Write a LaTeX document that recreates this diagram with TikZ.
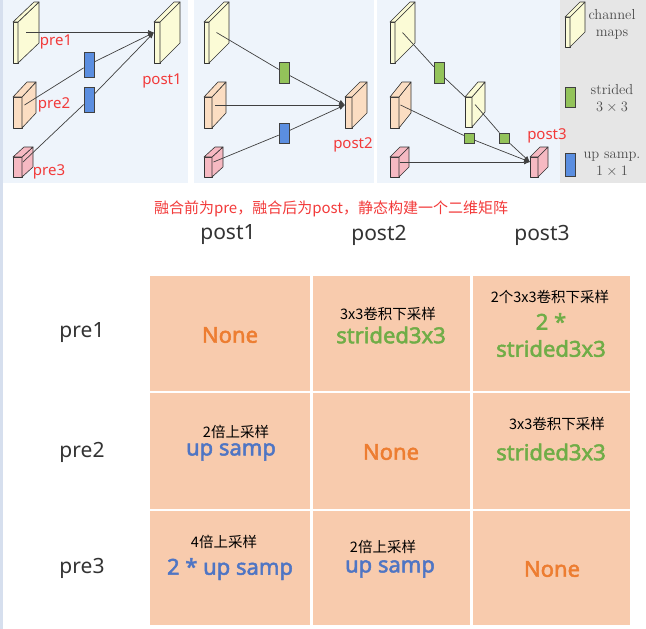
\documentclass[tikz,border=0pt]{standalone}
\usepackage{fontspec}
\newfontfamily\cjk{Noto Sans CJK SC}
\newfontfamily\lat{Noto Sans}
\newfontfamily\latb{Noto Sans}[FakeBold=2.2]
\usetikzlibrary{arrows.meta}
\definecolor{panelbg}{HTML}{EEF4FB}
\definecolor{stripblue}{HTML}{D6DFEE}
\definecolor{legendbg}{HTML}{E6E6E6}
\definecolor{mapyellow}{HTML}{FBFBD6}
\definecolor{maporange}{HTML}{FBDDC2}
\definecolor{mappink}{HTML}{F6B9C2}
\definecolor{upblue}{HTML}{5B8EE0}
\definecolor{strgreen}{HTML}{93C35A}
\definecolor{lblred}{HTML}{F23A3A}
\definecolor{cellfill}{HTML}{F8CBAD}
\definecolor{noneorange}{HTML}{ED7D31}
\definecolor{strgreentxt}{HTML}{70AD47}
\definecolor{upbluetxt}{HTML}{4F75C4}
% a channel map: name, x, y, width, height, depth x, depth y, colour
\newcommand{\slab}[8]{%
  \filldraw[slabedge, fill=#8] ({#2},{#3}) rectangle ++({#4},{#5});
  \filldraw[slabedge, fill=#8] ({#2+#4},{#3}) -- ++({#6},{#7}) -- ++(0,{#5}) -- ++({-#6},{-#7}) -- cycle;
  \filldraw[slabedge, fill=#8] ({#2},{#3}) -- ++({#6},{#7}) -- ++({#4},0) -- ++({-#6},{-#7}) -- cycle;
  \coordinate (#1) at ({#2+#4/2+#6/2},{#3+#5/2+#7/2});
  \coordinate (#1-w) at ({#2},{#3+#5/2+#7/2});
  \coordinate (#1-nw) at ({#2},{#3});
}
\tikzset{
  slabedge/.style={draw=black!80, line width=0.6pt, line join=round},
  upbox/.style={draw=black!75, fill=upblue, minimum width=10pt, inner sep=0pt, line width=0.6pt},
  strbox/.style={draw=black!75, fill=strgreen, minimum width=10pt, inner sep=0pt, line width=0.6pt},
  link/.style={draw=black!75, line width=0.7pt},
  arr/.style={link, -{Latex[length=6pt,width=5pt]}},
  redlbl/.style={text=lblred, font=\lat\fontsize{15}{17}\selectfont},
  legtxt/.style={text=black!70, font=\fontsize{14.5}{17}\selectfont, align=center},
  headtxt/.style={text=black!80, font=\lat\fontsize{21}{24}\selectfont},
  notetxt/.style={text=black, font=\cjk\fontsize{14.5}{17}\selectfont},
  celltxt/.style={font=\latb\fontsize{22}{27}\selectfont, align=center},
}
\begin{document}
\begin{tikzpicture}[x=1pt, y=-1pt]
\useasboundingbox (0,0) rectangle (646,629);

% Draw the panel backgrounds
\fill[stripblue] (0,0) rectangle (3,629);
\fill[panelbg] (3,0) rectangle (188,183);
\fill[panelbg] (194,0) rectangle (374,183);
\fill[panelbg] (377,0) rectangle (560,183);
\fill[legendbg] (560,0) rectangle (646,183);

% First panel: fusion into post1
\slab{p1a}{13}{22}{5}{41}{21}{-20}{mapyellow}
\slab{p1b}{13}{97}{9}{31}{14}{-15}{maporange}
\slab{p1c}{13}{157}{9}{20}{11}{-10}{mappink}
\slab{q1}{154}{22}{6}{41}{20}{-20}{mapyellow}
\node[upbox, minimum height=25pt] (u11) at (89,64.5) {};
\node[upbox, minimum height=25pt] (u12) at (89,99.5) {};
\draw[arr] (p1a) -- (q1-w);
\draw[link] (p1b) -- (u11);
\draw[arr] (u11) -- (q1-w);
\draw[link] (p1c) -- (u12);
\draw[arr] (u12) -- (q1-w);
\node[redlbl] (l11) at (56,42) {pre1};
\node[redlbl] (l12) at (54,105) {pre2};
\node[redlbl] (l13) at (49,172) {pre3};
\node[redlbl] (l14) at (162,81) {post1};

% Second panel: fusion into post2
\slab{p2a}{204}{22}{5}{41}{20}{-20}{mapyellow}
\slab{p2b}{204}{97}{8}{31}{14}{-15}{maporange}
\slab{p2c}{204}{157}{8}{20}{11}{-10}{mappink}
\slab{q2}{345}{97}{7}{31}{15}{-15}{maporange}
\node[strbox, minimum height=21pt] (d21) at (284,72.5) {};
\node[upbox, minimum height=20pt] (u21) at (284,133) {};
\draw[link] (p2a) -- (d21);
\draw[arr] (d21) -- (q2-w);
\draw[arr] (p2b) -- (q2-w);
\draw[link] (p2c) -- (u21);
\draw[arr] (u21) -- (q2-w);
\node[redlbl] (l21) at (353,145) {post2};

% Third panel: fusion into post3
\slab{p3a}{390}{22}{5}{41}{20}{-20}{mapyellow}
\slab{p3b}{390}{97}{9}{31}{12}{-15}{maporange}
\slab{p3c}{390}{157}{9}{20}{10}{-10}{mappink}
\slab{m3}{465}{97}{7}{30}{13}{-15}{mapyellow}
\slab{q3}{530}{157}{8}{20}{10}{-10}{mappink}
\node[strbox, minimum height=21pt] (d31) at (439,72.5) {};
\node[strbox, minimum height=10pt] (d32) at (469,138) {};
\node[strbox, minimum height=10pt] (d33) at (504,138) {};
\draw[link] (p3a) -- (d31);
\draw[link] (d31) -- (m3-nw);
\draw[link] (m3) -- (d33);
\draw[arr] (d33) -- (q3-w);
\draw[link] (p3b) -- (d32);
\draw[arr] (d32) -- (q3-w);
\draw[arr] (p3c) -- (q3-w);
\node[redlbl] (l31) at (547,136) {post3};

% Legend
\slab{lg}{565}{17}{5}{30}{15}{-15}{mapyellow}
\node[strbox, minimum height=20pt] (lgs) at (570,97) {};
\node[upbox, minimum height=23pt] (lgu) at (570,164.5) {};
\node[legtxt] (lt1) at (612,24) {channel\\maps};
\node[legtxt] (lt2) at (612,99) {strided\\$3\times 3$};
\node[legtxt] (lt3) at (612,164) {up samp.\\$1\times 1$};

% Caption and headers
\node[text=lblred, font=\cjk\fontsize{15}{18}\selectfont] (cap) at (331,209) {融合前为pre，融合后为post，静态构建一个二维矩阵};
\node[headtxt] (h1) at (228,235) {post1};
\node[headtxt] (h2) at (379,235) {post2};
\node[headtxt] (h3) at (542,235) {post3};
\node[headtxt] (r1) at (82,333) {pre1};
\node[headtxt] (r2) at (82,452) {pre2};
\node[headtxt] (r3) at (82,568) {pre3};

% Draw the matrix cells
\foreach \xa/\xb in {150/310, 313/470, 473/630}
  \foreach \ya/\yb in {276/391, 393/509, 511/625}
    \fill[cellfill] (\xa,\ya) rectangle (\xb,\yb);

% Row pre1
\node[celltxt, text=noneorange] (c11) at (230,335) {None};
\node[notetxt] (n12) at (388,314) {3x3卷积下采样};
\node[celltxt, text=strgreentxt] (c12) at (391,335) {strided3x3};
\node[notetxt] (n13) at (550,297) {2个3x3卷积下采样};
\node[celltxt, text=strgreentxt] (c13) at (551,335) {2 *\\strided3x3};
% Row pre2
\node[notetxt] (n21) at (236,432) {2倍上采样};
\node[celltxt, text=upbluetxt] (c21) at (231,452) {up samp};
\node[celltxt, text=noneorange] (c22) at (391,452) {None};
\node[notetxt] (n23) at (557,424) {3x3卷积下采样};
\node[celltxt, text=strgreentxt] (c23) at (551,452) {strided3x3};
% Row pre3
\node[notetxt] (n31) at (224,542) {4倍上采样};
\node[celltxt, text=upbluetxt] (c31) at (230,569) {2 * up samp};
\node[notetxt] (n32) at (383,547) {2倍上采样};
\node[celltxt, text=upbluetxt] (c32) at (390,569) {up samp};
\node[celltxt, text=noneorange] (c33) at (552,569) {None};
\end{tikzpicture}
\end{document}
